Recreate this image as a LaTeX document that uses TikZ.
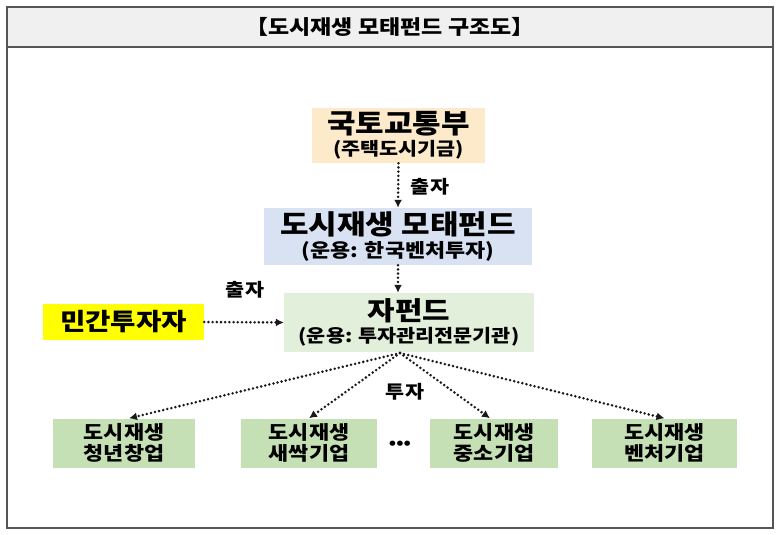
\documentclass[tikz,border=0pt]{standalone}
\usepackage{fontspec}
\setmainfont{Noto Sans CJK KR}[FakeStretch=1.15]
\usetikzlibrary{arrows.meta}
\definecolor{frameC}{HTML}{555555}
\definecolor{titleC}{HTML}{F0F0F0}
\definecolor{govC}{HTML}{FCEACB}
\definecolor{motherC}{HTML}{D9E2F3}
\definecolor{subC}{HTML}{E2EFDA}
\definecolor{leafC}{HTML}{C5E0B4}
\definecolor{invC}{HTML}{FFFF00}
\newcommand{\fsz}[1]{\fontsize{#1}{#1}\selectfont}
\begin{document}
\begin{tikzpicture}[x=1pt,y=-1pt,
  box/.style={inner sep=0pt, align=center, font=\bfseries},
  flow/.style={line width=2.8pt, line cap=round, dash pattern=on 0pt off 4.2pt, draw=black!90,
    -{Latex[length=8pt,width=8pt,line cap=butt]}},
  lbl/.style={font=\bfseries\fsz{18}, inner sep=0pt}]
\useasboundingbox (0,0) rectangle (780,535);
% frame
\fill[white] (0,0) rectangle (780,535);
\filldraw[fill=titleC, draw=frameC, line width=1.2pt] (7,7) rectangle (773,47);
\draw[frameC, line width=1.2pt] (7,7) rectangle (773,528);
\node[box, font=\bfseries\fsz{20}] (title) at (390,27) {【도시재생 모태펀드 구조도】};
% nodes
\node[box, fill=govC, minimum width=173pt, minimum height=55pt] (gov) at (398.5,135.5)
  {{\fsz{27}국토교통부}\\[3pt]{\fsz{18}(주택도시기금)}};
\node[box, fill=motherC, minimum width=268pt, minimum height=57pt] (mother) at (398,236.5)
  {{\fsz{27}도시재생 모태펀드}\\[3pt]{\fsz{19}(운용: 한국벤처투자)}};
\node[box, fill=subC, minimum width=250pt, minimum height=59pt] (sub) at (409,322.5)
  {{\fsz{26}자펀드}\\[3pt]{\fsz{18}(운용: 투자관리전문기관)}};
\node[box, fill=invC, minimum width=161pt, minimum height=36pt] (inv) at (123.5,322)
  {\fsz{24}민간투자자};
\node[box, fill=leafC, minimum width=142pt, minimum height=49pt] (b1) at (124,443)
  {\fsz{19}도시재생\\[2pt]\fsz{19}청년창업};
\node[box, fill=leafC, minimum width=136pt, minimum height=49pt] (b2) at (309,443)
  {\fsz{19}도시재생\\[2pt]\fsz{19}새싹기업};
\node[box, fill=leafC, minimum width=128pt, minimum height=49pt] (b3) at (494,443)
  {\fsz{19}도시재생\\[2pt]\fsz{19}중소기업};
\node[box, fill=leafC, minimum width=145pt, minimum height=49pt] (b4) at (664.5,443)
  {\fsz{19}도시재생\\[2pt]\fsz{19}벤처기업};
\node[box, font=\bfseries\fsz{16}] (dots) at (400,445) {•••};
% labels
\node[lbl] (l1) at (430,187) {출자};
\node[lbl] (l2) at (245,290) {출자};
\node[lbl] (l3) at (405,392) {투자};
% connectors
\coordinate (hub) at (400,353);
\draw[flow] (gov.south) -- (mother.north);
\draw[flow] (mother.south) -- (mother.south |- sub.north);
\draw[flow] (inv.east) -- (sub.west);
\draw[flow] (hub) -- ([xshift=5pt]b1.north);
\draw[flow] (hub) -- (b2.north);
\draw[flow] (hub) -- ([xshift=-4pt]b3.north);
\draw[flow] (hub) -- (b4.north);
\end{tikzpicture}
\end{document}
